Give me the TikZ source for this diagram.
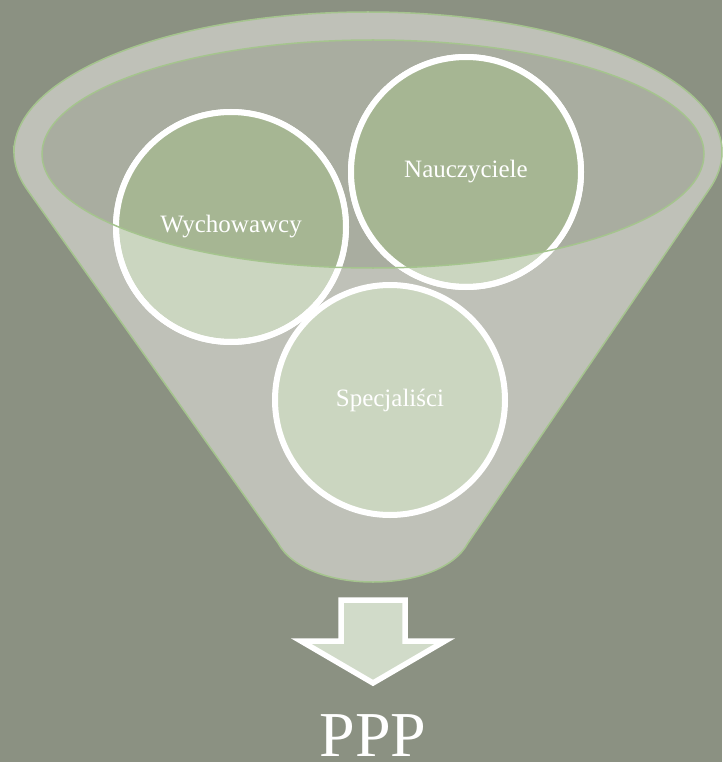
\documentclass[tikz,border=0pt]{standalone}
\usepackage{fontspec}
\setmainfont{Liberation Serif}
\usepackage{tikz}
\usetikzlibrary{positioning}
\usepackage{color}
\definecolor{bgcol}{HTML}{8B9182}
\definecolor{funnelcol}{HTML}{BFC1B8}
\definecolor{mouthcol}{HTML}{A9ADA0}
\definecolor{bubblelight}{HTML}{CBD6C0}
\definecolor{bubbledark}{HTML}{A6B693}
\definecolor{rimgreen}{HTML}{A5C48E}
\definecolor{arrowfill}{HTML}{D1DBC9}
\tikzstyle{bubble} = [circle, minimum size=230pt, inner sep=0pt, text centered, draw=white, line width=6pt, fill=bubblelight, text=white, font=\fontsize{25}{28}\selectfont]
\tikzstyle{label} = [text=white, font=\fontsize{25}{28}\selectfont]
\tikzstyle{rim} = [draw=rimgreen, line width=1.5pt]
\tikzstyle{bigarrow} = [draw=white, line width=5.5pt, fill=arrowfill, line join=miter]

\begin{document}
\begin{tikzpicture}[x=1pt,y=-1pt]

\useasboundingbox (0,0) rectangle (722,762);
\fill [bgcol] (0,0) rectangle (722,762);

% funnel body
\path [fill=funnelcol, rim] (14,152) arc [start angle=180, end angle=-15, x radius=354pt, y radius=140pt] -- (468,543) .. controls (440,595) and (306,595) .. (278,543) -- (26,188) arc [start angle=195, end angle=180, x radius=354pt, y radius=140pt] -- cycle;
\fill [mouthcol] (373,154) ellipse (331pt and 114pt);

% the three groups
\node (wych) [bubble] at (231,227) {};
\node (nauc) [bubble] at (466,172) {};
\node (spec) [bubble] at (390,400) {};

\begin{scope}
\clip (373,154) ellipse (331pt and 114pt);
\fill [bubbledark] (wych.center) circle (115pt);
\fill [bubbledark] (nauc.center) circle (115pt);
\end{scope}

\draw [draw=white, line width=6pt] (wych.center) circle (115pt);
\draw [draw=white, line width=6pt] (nauc.center) circle (115pt);
\draw [rim] (373,154) ellipse (331pt and 114pt);

\node [label] at (wych.center) {Wychowawcy};
\node [label] at (nauc.center) {Nauczyciele};
\node [label] at (spec.center) {Specjaliści};

% output
\draw [bigarrow] (341,600) -- (405,600) -- (405,641) -- (445,641) -- (373,683) -- (301,641) -- (341,641) -- cycle;
\node (ppp) [anchor=base, text=white, font=\fontsize{64}{66}\selectfont, inner sep=0pt] at (373,756) {PPP};

\end{tikzpicture}
\end{document}
